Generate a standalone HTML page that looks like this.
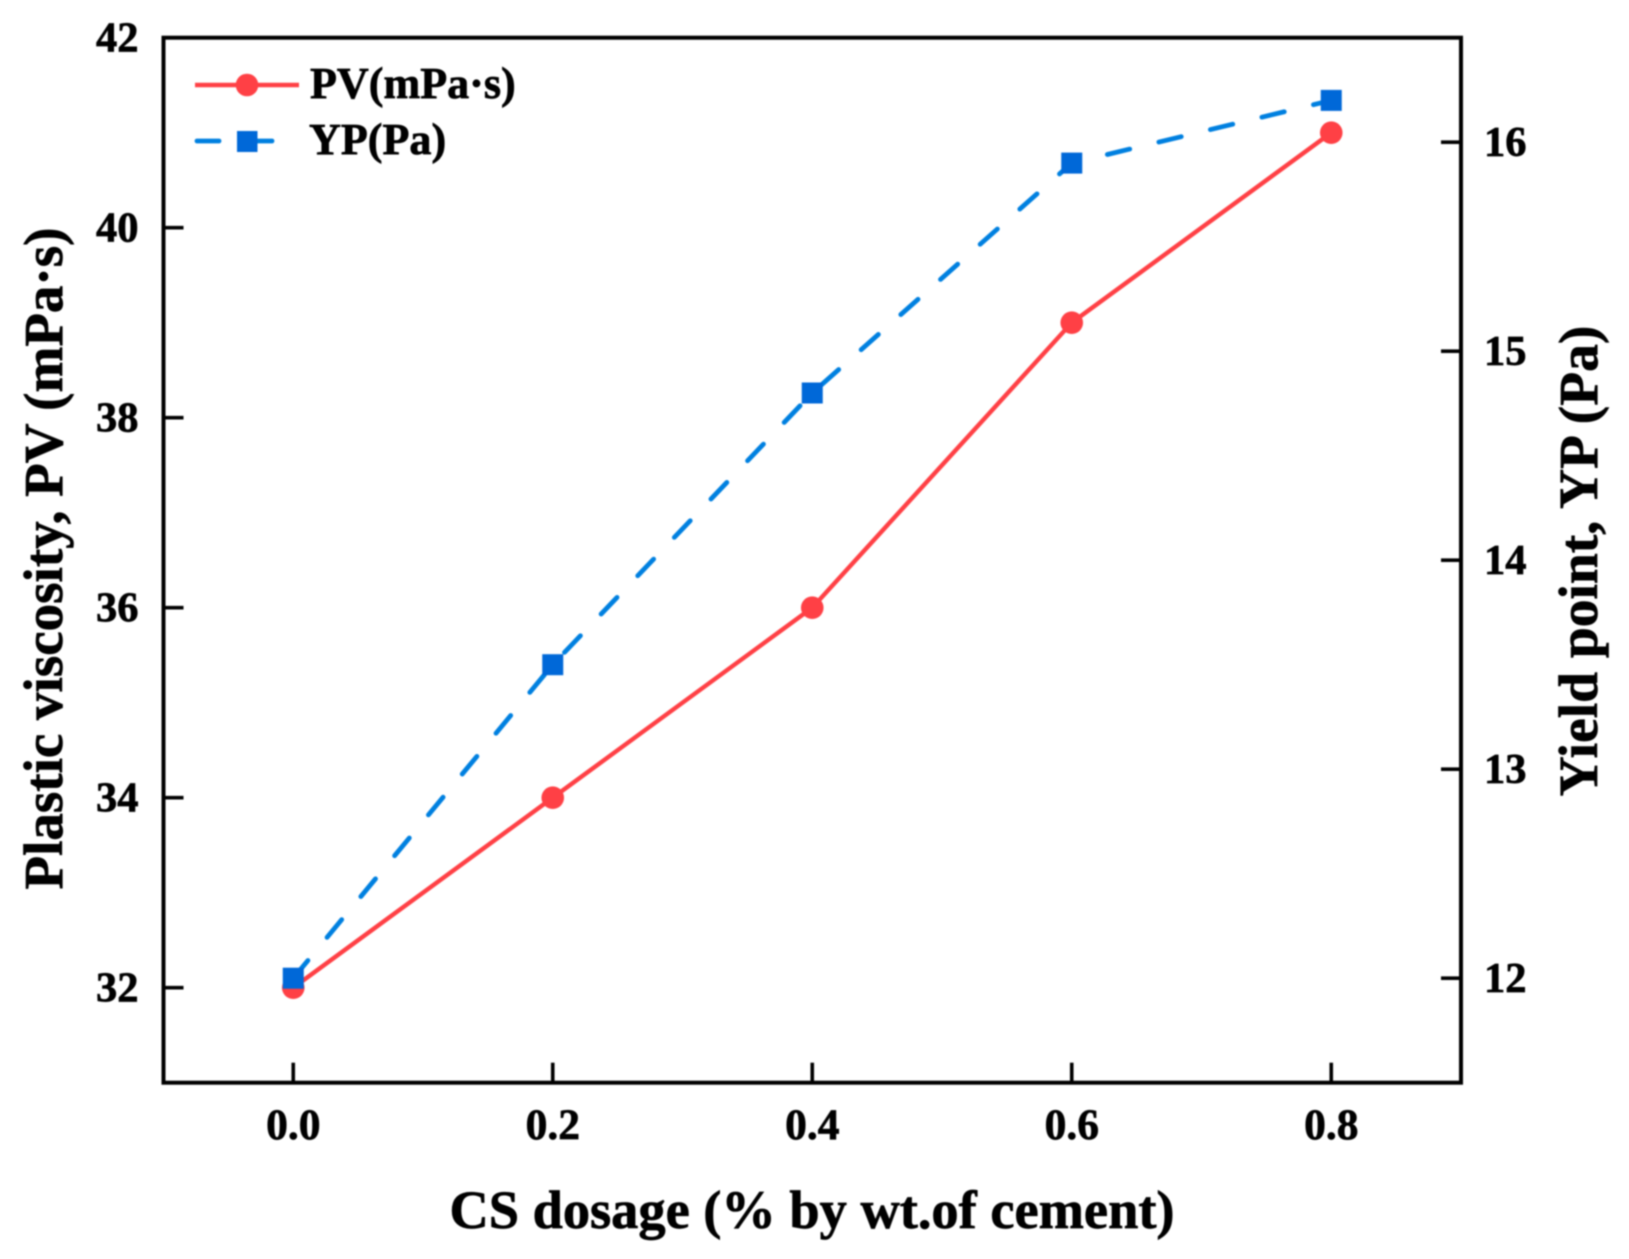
<!DOCTYPE html>
<html lang="en">
<head>
<meta charset="utf-8">
<title>Plastic viscosity and yield point vs CS dosage</title>
<style>
  html, body { margin: 0; padding: 0; background: #fff; }
  #chart { display: block; width: 1629px; height: 1259px; filter: blur(0.8px); }
  text { font-family: "Liberation Serif", serif; font-weight: bold; fill: #000; stroke: #000; stroke-width: 0.7px; }
</style>
</head>
<body>
<svg id="chart" xmlns="http://www.w3.org/2000/svg" width="1629" height="1259" viewBox="0 0 1629 1259"></svg>
<script>
const categories = [0.0, 0.2, 0.4, 0.6, 0.8];
const pvValues = [32, 34, 36, 39, 41];
const ypValues = [12, 13.5, 14.8, 15.9, 16.2];
const xTickLabels = ["0.0", "0.2", "0.4", "0.6", "0.8"];
const leftTickLabels = ["32", "34", "36", "38", "40", "42"];
const rightTickLabels = ["12", "13", "14", "15", "16"];
const xDomain = [-0.1, 0.9];
const leftDomain = [31, 42];
const rightDomain = [11.5, 16.5];

const plotLeft = 163.5, plotRight = 1461, plotTop = 37.7, plotBottom = 1082.7;
const RED = "#ff4045", BLUE_LINE = "#0080e0", BLUE_MARK = "#0068d8";
const svg = document.getElementById("chart");
const NS = "http://www.w3.org/2000/svg";

function xScale(v) { return plotLeft + (v - xDomain[0]) / (xDomain[1] - xDomain[0]) * (plotRight - plotLeft); }
function leftScale(v) { return plotBottom - (v - leftDomain[0]) / (leftDomain[1] - leftDomain[0]) * (plotBottom - plotTop); }
function rightScale(v) { return plotBottom - (v - rightDomain[0]) / (rightDomain[1] - rightDomain[0]) * (plotBottom - plotTop); }

function make(tag, attrs, content) {
  const el = document.createElementNS(NS, tag);
  for (const k in attrs) el.setAttribute(k, attrs[k]);
  if (content !== undefined) el.textContent = content;
  svg.appendChild(el);
  return el;
}

let el;

// Left ticks and labels
leftTickLabels.forEach(function (label) {
  const y = leftScale(Number(label));
  if (Number(label) !== leftDomain[1]) {
    el = make("line", { x1: plotLeft, x2: plotLeft + 20, y1: y, y2: y, stroke: "#000", "stroke-width": 3.6 });
    
    
  }
  el = make("text", { x: 138.5, y: y + 14, "text-anchor": "end", "font-size": 42.5 }, label);
  
  
});

// Right ticks and labels
rightTickLabels.forEach(function (label) {
  const y = rightScale(Number(label));
  el = make("line", { x1: plotRight - 20, x2: plotRight, y1: y, y2: y, stroke: "#000", "stroke-width": 3.6 });
  
  
  el = make("text", { x: 1484, y: y + 14, "text-anchor": "start", "font-size": 42.5 }, label);
  
  
});

// X ticks and labels
xTickLabels.forEach(function (label) {
  const x = xScale(Number(label));
  el = make("line", { x1: x, x2: x, y1: plotBottom - 20, y2: plotBottom, stroke: "#000", "stroke-width": 3.6 });
  
  
  el = make("text", { x: x, y: 1139, "text-anchor": "middle", "font-size": 43.5 }, label);
  
  
});

// Plot frame
el = make("rect", { x: plotLeft, y: plotTop, width: plotRight - plotLeft, height: plotBottom - plotTop, fill: "none", stroke: "#000", "stroke-width": 4 });



// PV line
el = make("polyline", {
  points: categories.map(function (c, i) { return xScale(c) + "," + leftScale(pvValues[i]); }).join(" "),
  fill: "none", stroke: RED, "stroke-width": 4.4, "stroke-linejoin": "round"
});



// PV markers
categories.forEach(function (c, i) {
  el = make("circle", { cx: xScale(c), cy: leftScale(pvValues[i]), r: 11.3, fill: RED });
  
  
});

// YP line
el = make("polyline", {
  points: categories.map(function (c, i) { return xScale(c) + "," + rightScale(ypValues[i]); }).join(" "),
  fill: "none", stroke: BLUE_LINE, "stroke-width": 4.8, "stroke-linecap": "round", "stroke-linejoin": "round", "stroke-dasharray": "23 30"
});



// YP markers
categories.forEach(function (c, i) {
  el = make("rect", { x: xScale(c) - 10.5, y: rightScale(ypValues[i]) - 10.5, width: 21, height: 21, fill: BLUE_MARK });
  
  
});

// Axis titles
el = make("text", { x: 812, y: 1228, "text-anchor": "middle", "font-size": 54.4 }, "CS dosage (% by wt.of cement)");



el = make("text", { transform: "translate(62 558.5) rotate(-90)", "text-anchor": "middle", "font-size": 55 }, "Plastic viscosity, PV (mPa\u00b7s)");



el = make("text", { transform: "translate(1597 561) rotate(-90)", "text-anchor": "middle", "font-size": 55.5 }, "Yield point, YP (Pa)");



// Legend
el = make("line", { x1: 195, x2: 299, y1: 85, y2: 85, stroke: RED, "stroke-width": 4.4 });



el = make("circle", { cx: 247, cy: 85, r: 11.3, fill: RED });



el = make("text", { x: 310, y: 98, "font-size": 44.1 }, "PV(mPa\u00b7s)");



el = make("line", { x1: 197, x2: 219, y1: 141, y2: 141, stroke: BLUE_LINE, "stroke-width": 4.8, "stroke-linecap": "round" });



el = make("line", { x1: 250, x2: 272, y1: 141, y2: 141, stroke: BLUE_LINE, "stroke-width": 4.8, "stroke-linecap": "round" });



el = make("rect", { x: 237, y: 131, width: 20.5, height: 21, fill: BLUE_MARK });



el = make("text", { x: 309, y: 154, "font-size": 44.1 }, "YP(Pa)");


</script>
</body>
</html>
